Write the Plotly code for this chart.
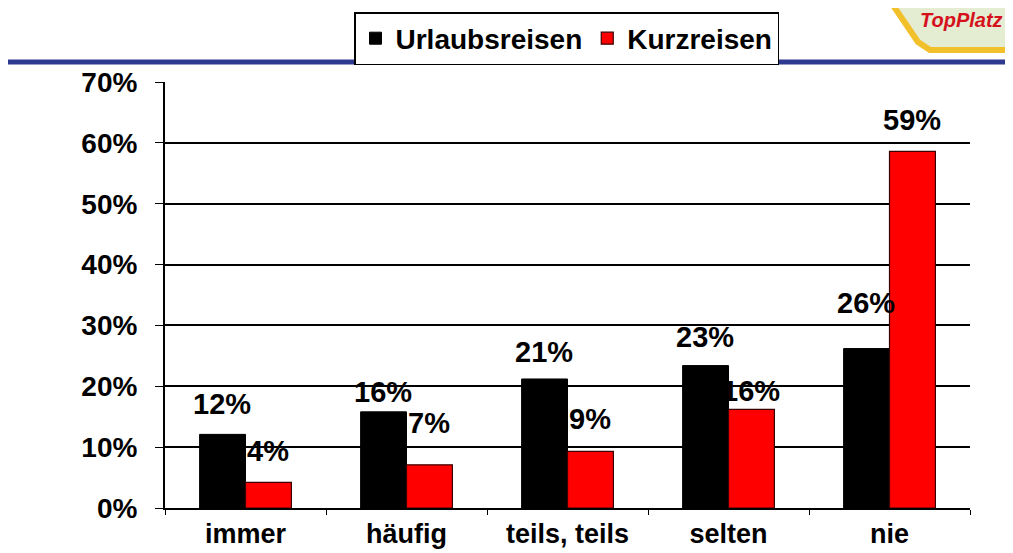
import plotly.graph_objects as go

categories = ["immer", "häufig", "teils, teils", "selten", "nie"]
urlaubsreisen = [12.1, 15.8, 21.2, 23.4, 26.2]
kurzreisen = [4.2, 7.1, 9.3, 16.2, 58.6]
series_names = ["Urlaubsreisen", "Kurzreisen"]
y_ticks = [0, 10, 20, 30, 40, 50, 60, 70]
y_tick_labels = ["0%", "10%", "20%", "30%", "40%", "50%", "60%", "70%"]

# style: pixel gap between bar top and label baseline
gap_u = [19, 9, 16, 18, 35]
gap_k = [20, 31, 21, 7, 20]

FONT = "Arial, 'Liberation Sans', sans-serif"

# page body has an 8px margin; figure drawn at (8,8)
W, H = 1005, 545
L, T, R, B = 157, 74, 43, 45
PW, PH = W - L - R, H - T - B


def px(X):
    return (X - 8 - L) / PW


def py(Y):
    return (H - B - (Y - 8)) / PH


fig = go.Figure()
fig.add_trace(go.Bar(x=categories, y=urlaubsreisen, name=series_names[0],
                     marker=dict(color="#000000", line=dict(color="#000000", width=1))))
fig.add_trace(go.Bar(x=categories, y=kurzreisen, name=series_names[1],
                     marker=dict(color="#ff0000", line=dict(color="#3a0000", width=1.2))))

ann = []
for i, c in enumerate(categories):
    for vals, gaps, xs in ((urlaubsreisen, gap_u, -24), (kurzreisen, gap_k, 22)):
        ann.append(dict(x=c, y=vals[i], xref="x", yref="y", text=f"{vals[i]:.0f}%",
                        showarrow=False, xshift=xs, yshift=gaps[i] - 7, yanchor="bottom",
                        font=dict(family=FONT, size=29, color="#000", weight="bold")))

ann.append(dict(x=px(961), y=py(20), xref="paper", yref="paper", text="<i>TopPlatz</i>",
                showarrow=False, xanchor="center", yanchor="middle",
                font=dict(family=FONT, size=20, color="#d5121c", weight="bold")))

logo_pts = [(886, -5), (918, 42), (930, 50), (1020, 50), (1020, -5)]
logo_path = "M " + " L ".join(f"{px(a):.4f},{py(b):.4f}" for a, b in logo_pts) + " Z"

shapes = [
    dict(type="path", xref="paper", yref="paper", path=logo_path,
         fillcolor="#e4ecd2", line=dict(color="#f2c02a", width=6), layer="below"),
    dict(type="line", xref="paper", yref="paper", x0=px(0), x1=px(1013), y0=py(62), y1=py(62),
         line=dict(color="#2e3a90", width=5)),
]

fig.update_layout(
    width=W, height=H,
    margin=dict(l=L, r=R, t=T, b=B, autoexpand=False),
    paper_bgcolor="white", plot_bgcolor="white",
    barmode="group", bargap=0.43, bargroupgap=0,
    font=dict(family=FONT, color="#000"),
    showlegend=True,
    legend=dict(orientation="h", x=px(566.5), y=py(12), xanchor="center", yanchor="top",
                bordercolor="#000", borderwidth=1.5, bgcolor="white",
                font=dict(family=FONT, size=28, color="#000", weight="bold"),
                itemwidth=30, tracegroupgap=0),
    annotations=ann, shapes=shapes,
)
fig.update_xaxes(showline=True, linecolor="#000", linewidth=1.5, ticks="outside",
                 tickson="boundaries", ticklen=5, tickcolor="#000", showgrid=False,
                 range=[-0.5, 4.5], automargin=False, ticklabelstandoff=1,
                 tickfont=dict(family=FONT, size=27, color="#000", weight="bold"))
fig.update_yaxes(range=[0, 70], tickvals=y_ticks, ticktext=y_tick_labels, showline=True,
                 linecolor="#000", linewidth=2, ticks="outside", ticklen=8,
                 tickcolor="#000", showgrid=True, gridcolor="#000", gridwidth=1.5,
                 zeroline=False, automargin=False, ticklabelstandoff=12,
                 tickfont=dict(family=FONT, size=28, color="#000", weight="bold"))

fig.write_html("out.html")
